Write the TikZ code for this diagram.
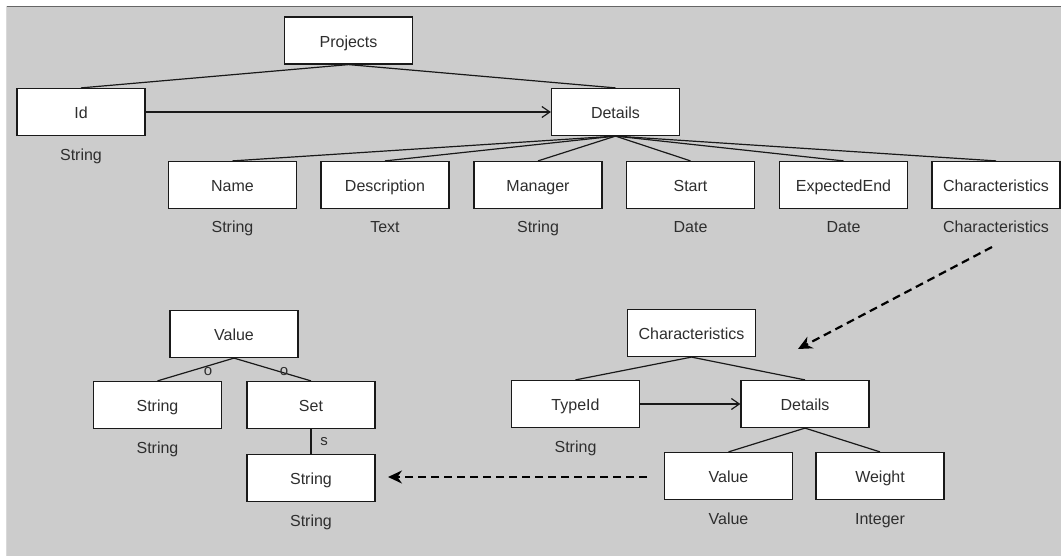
\documentclass[tikz,border=0pt]{standalone}
\usepackage{fontspec}
\setmainfont{Liberation Sans}
\usetikzlibrary{arrows.meta}
\definecolor{bgc}{HTML}{CCCCCC}
\definecolor{txt}{HTML}{2E2E2E}
\definecolor{frame}{HTML}{666666}
\tikzset{
  box/.style={draw=black!90, line width=1.2pt, fill=white, minimum width=128pt,
    minimum height=47pt, inner sep=0pt, text height=13.4pt, text depth=0pt,
    text=txt, font=\fontsize{16}{19}\selectfont},
  typ/.style={text=txt, inner sep=0pt, text height=13.4pt, text depth=0pt,
    font=\fontsize{16}{19}\selectfont},
  elab/.style={text=txt, inner sep=0pt, text height=8pt, text depth=0pt,
    font=\fontsize{15}{18}\selectfont},
  edge/.style={draw=black!90, line width=1.2pt},
  ref/.style={draw=black!90, line width=1.2pt, -{Straight Barb[length=8pt,width=11pt,line width=1.2pt]}},
  link/.style={draw=black, line width=2.2pt, dash pattern=on 8pt off 5pt,
    -{Stealth[length=14pt,width=13pt]}}
}
\begin{document}
\begin{tikzpicture}[x=1pt,y=-1pt]
  % canvas
  \useasboundingbox (0,0) rectangle (1061,556);
  \fill[white] (0,0) rectangle (1061,556);
  \fill[bgc] (6,6) rectangle (1061,556);
  \draw[frame, line width=1.5pt] (6,6.5) -- (1061,6.5);
  \draw[white!85!black, line width=0.8pt] (6.4,6) -- (6.4,556);

  % Projects tree
  \node[box] (proj) at (348.5,40.5) {Projects};
  \node[box] (id) at (81,112) {Id};
  \node[box] (det) at (615.5,112) {Details};
  \node[typ] (idt) at (81,153.5) {String};

  \node[box] (name) at (232.5,185) {Name};
  \node[box] (desc) at (385,185) {Description};
  \node[box] (mgr) at (538,185) {Manager};
  \node[box] (start) at (690.5,185) {Start};
  \node[box] (eend) at (843.5,185) {ExpectedEnd};
  \node[box] (chr) at (996,185) {Characteristics};

  \node[typ] (namet) at (232.5,226) {String};
  \node[typ] (desct) at (385,226) {Text};
  \node[typ] (mgrt) at (538,226) {String};
  \node[typ] (startt) at (690.5,226) {Date};
  \node[typ] (eendt) at (843.5,226) {Date};
  \node[typ] (chrt) at (996,226) {Characteristics};

  \draw[edge] (proj.south) -- (id.north);
  \draw[edge] (proj.south) -- (det.north);
  \draw[ref] (id.east) -- (det.west);
  \foreach \c in {name,desc,mgr,start,eend,chr}
    \draw[edge] (det.south) -- (\c.north);

  % Value tree
  \node[box] (val) at (234,334) {Value};
  \node[box] (str1) at (157.5,405) {String};
  \node[box] (set) at (311,405) {Set};
  \node[box] (str2) at (311,478) {String};
  \node[typ] (str1t) at (157.5,447) {String};
  \node[typ] (str2t) at (311,520) {String};

  \draw[edge] (val.south) -- (str1.north);
  \draw[edge] (val.south) -- (set.north);
  \draw[edge] (set.south) -- (str2.north);
  \node[elab] (o1) at (208,371) {o};
  \node[elab] (o2) at (284,371) {o};
  \node[elab] (s1) at (324,441) {s};

  % Characteristics tree
  \node[box] (chr2) at (691.5,333) {Characteristics};
  \node[box] (tid) at (575.5,404) {TypeId};
  \node[box] (det2) at (805,404) {Details};
  \node[box] (val2) at (728.5,476) {Value};
  \node[box] (wgt) at (880,476) {Weight};
  \node[typ] (tidt) at (575.5,446) {String};
  \node[typ] (val2t) at (728.5,518) {Value};
  \node[typ] (wgtt) at (880,518) {Integer};

  \draw[edge] (chr2.south) -- (tid.north);
  \draw[edge] (chr2.south) -- (det2.north);
  \draw[ref] (tid.east) -- (det2.west);
  \draw[edge] (det2.south) -- (val2.north);
  \draw[edge] (det2.south) -- (wgt.north);

  % type references
  \coordinate (chrA) at (992,247);
  \coordinate (chrB) at (798,349);
  \draw[link] (chrA) -- (chrB);
  \coordinate (valA) at (647,477);
  \coordinate (valB) at (388,477);
  \draw[link] (valA) -- (valB);
\end{tikzpicture}
\end{document}
